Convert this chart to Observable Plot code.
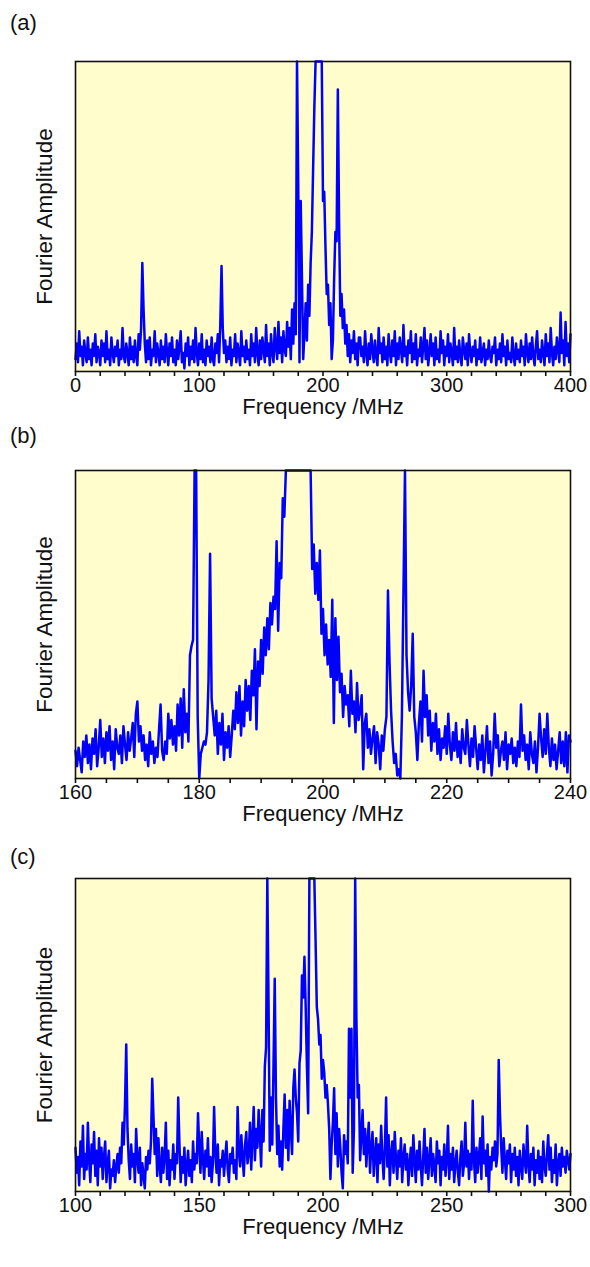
<!DOCTYPE html>
<html>
<head>
<meta charset="utf-8">
<script src="https://cdn.jsdelivr.net/npm/d3@7"></script>
<script src="https://cdn.jsdelivr.net/npm/@observablehq/plot@0.6"></script>
<style>
  html, body { margin: 0; padding: 0; background: white; }
  #root { position: relative; width: 590px; height: 1267px; font-family: "Liberation Sans", Arial, sans-serif; }
  .panel { position: absolute; left: 0; }
  .tag { position: absolute; left: 10px; font-size: 22px; color: #111; line-height: 1; }
</style>
</head>
<body>
<div id="root"></div>
<script>
// ---------- Panel (a): 0–400 MHz, 1 MHz sampling ----------
const aStart = 0, aEnd = 400, aStep = 1;
const aTickLabels = [0, 100, 200, 300, 400];
const aMinorStep = 20;
const aAmp = [
  4, 9, 3, 13, 5, 8, 2, 10, 6, 3,
  11, 4, 7, 2, 9, 5, 12, 3, 8, 6,
  2, 10, 5, 9, 3, 13, 4, 7, 2, 11,
  6, 3, 8, 5, 10, 2, 7, 4, 14, 5,
  3, 9, 6, 2, 11, 4, 8, 3, 10, 5,
  2, 12, 7, 14, 35, 20, 9, 3, 10, 4,
  11, 2, 7, 5, 13, 3, 9, 6, 2, 10,
  4, 8, 3, 12, 6, 2, 9, 5, 11, 3,
  7, 2, 10, 4, 8, 13, 3, 6, 1, 9,
  5, 11, 2, 8, 4, 10, 3, 14, 6, 2,
  9, 4, 12, 3, 7, 2, 10, 5, 8, 3,
  11, 4, 2, 9, 6, 12, 3, 15, 34, 14,
  6, 10, 3, 8, 4, 11, 2, 7, 5, 12,
  3, 9, 6, 2, 13, 5, 8, 3, 10, 4,
  7, 2, 12, 5, 9, 3, 14, 6, 2, 10,
  4, 11, 7, 3, 15, 5, 9, 2, 12, 6,
  3, 14, 8, 4, 16, 6, 11, 3, 13, 7,
  5, 16, 8, 14, 4, 20, 9, 22, 12, 100,
  60, 3, 55, 30, 4, 12, 22, 10, 28, 18,
  35, 45, 65, 85, 100, 100, 100, 100, 100, 100,
  55, 58, 40, 25, 28, 15, 22, 4, 10, 30,
  45, 42, 91, 48, 18, 25, 14, 20, 9, 15,
  5, 12, 3, 10, 6, 13, 4, 9, 2, 11,
  11, 5, 8, 3, 13, 6, 2, 9, 4, 12,
  7, 3, 10, 5, 2, 14, 6, 9, 3, 11,
  4, 8, 2, 12, 6, 3, 10, 5, 13, 2,
  9, 4, 11, 7, 3, 15, 5, 8, 2, 10,
  6, 13, 3, 9, 4, 12, 2, 7, 5, 11,
  3, 8, 14, 4, 10, 2, 6, 12, 5, 9,
  2, 11, 4, 7, 3, 13, 6, 10, 2, 8,
  5, 12, 3, 9, 6, 2, 14, 4, 8, 3,
  10, 5, 2, 11, 7, 4, 9, 2, 12, 6,
  3, 8, 5, 10, 2, 7, 4, 11, 3, 6,
  9, 2, 7, 4, 10, 5, 3, 8, 6, 11,
  2, 7, 4, 9, 3, 12, 5, 8, 2, 10,
  4, 6, 3, 11, 5, 2, 9, 4, 7, 3,
  10, 5, 8, 2, 12, 6, 3, 9, 4, 11,
  5, 2, 8, 13, 4, 7, 3, 10, 6, 2,
  12, 5, 9, 3, 14, 6, 2, 8, 4, 11,
  7, 3, 19, 6, 10, 2, 16, 5, 9, 3,
  12
];

// ---------- Panel (b): 160–240 MHz, 0.25 MHz sampling ----------
const bStart = 160, bEnd = 240, bStep = 0.25;
const bTickLabels = [160, 180, 200, 220, 240];
const bMinorStep = 5;
const bAmp = [
  9, 4, 10, 6,     2, 12, 7, 14,    5, 11, 3, 13,    8, 16, 4, 10,
  19, 7, 13, 5,    15, 9, 17, 6,    12, 3, 16, 10,   8, 14, 5, 17,
  11, 6, 15, 9,    13, 18, 7, 21,   25, 12, 17, 9,   14, 6, 11, 4,
  15, 8, 12, 5,    10, 7, 16, 24,   9, 6, 12, 8,     21, 13, 19, 11,
  17, 9, 24, 14,   26, 10, 29, 15,  21, 12, 40, 43,  45, 100, 100, 20,
  0, 8, 10, 12,    11, 15, 32, 73,  26, 20, 14, 22,  8, 18, 11, 21,
  6, 15, 10, 17,   7, 14, 22, 16,   28, 18, 30, 14,  25, 17, 32, 22,
  30, 19, 35, 27,  42, 16, 38, 30,  45, 34, 49, 40,  52, 42, 57, 50,
  59, 55, 77, 48,  70, 65, 91, 85,  100, 100, 100, 100, 100, 100, 100, 100,
  100, 100, 100, 100, 100, 100, 100, 100, 100, 68, 76, 60, 70, 58, 74, 47,
  55, 40, 50, 37,  45, 33, 58, 18,  52, 32, 46, 28,  34, 20, 30, 24,
  27, 17, 35, 21,  25, 15, 31, 19,  22, 27, 3, 18,   21, 10, 16, 8,
  13, 17, 5, 15,  11, 3, 14, 9,    16, 20, 61, 38,  22, 12, 5, 8,
  1, 3, 0, 20,     60, 100, 40, 28, 22, 30, 47, 20,  15, 6, 18, 25,
  12, 35, 20, 27,  14, 22, 9, 18,   12, 21, 8, 16,   6, 13, 10, 17,
  8, 21, 11, 6,    15, 9, 18, 7,    12, 5, 16, 10,   8, 19, 11, 4,
  13, 7, 17, 10,   3, 11, 6, 14,    2, 9, 17, 5,     12, 1, 8, 21,
  10, 14, 4, 9,    12, 6, 15, 3,    11, 8, 13, 5,    10, 4, 12, 7,
  24, 9, 14, 6,    11, 3, 15, 8,    5, 12, 2, 10,    21, 13, 7, 16,
  8, 21, 10, 4,    13, 6, 11, 3,    9, 15, 5, 12,    4, 15, 2, 14,
  12
];

// ---------- Panel (c): 100–300 MHz, 0.5 MHz sampling ----------
const cStart = 100, cEnd = 300, cStep = 0.5;
const cTickLabels = [100, 150, 200, 250, 300];
const cMinorStep = 10;
const cAmp = [
  14, 6, 11, 2, 16, 8, 21, 4, 12, 7,
  22, 10, 3, 15, 9, 19, 5, 13, 2, 17,
  8, 14, 4, 11, 16, 3, 9, 13, 1, 7,
  5, 10, 3, 8, 12, 6, 14, 9, 22, 15,
  28, 47, 20, 10, 4, 15, 8, 12, 3, 20,
  10, 6, 14, 2, 9, 5, 1, 11, 7, 13,
  9, 16, 36, 24, 12, 20, 5, 17, 8, 3,
  14, 6, 11, 22, 4, 13, 2, 10, 7, 15,
  4, 12, 9, 30, 15, 3, 11, 6, 14, 2,
  8, 13, 5, 10, 3, 16, 7, 12, 9, 25,
  14, 6, 19, 10, 4, 13, 8, 17, 5, 11,
  3, 9, 27, 12, 6, 15, 2, 10, 8, 13,
  5, 11, 16, 7, 3, 12, 9, 14, 6, 10,
  4, 27, 13, 8, 18, 11, 5, 15, 19, 9,
  12, 22, 7, 17, 27, 10, 20, 14, 26, 18,
  8, 26, 16, 40, 46, 100, 60, 13, 30, 15,
  40, 68, 30, 12, 21, 8, 16, 7, 20, 31,
  14, 26, 10, 29, 20, 12, 33, 39, 30, 25,
  16, 41, 45, 69, 62, 75, 59, 40, 25, 100,
  100, 100, 100, 100, 80, 59, 55, 47, 50, 36,
  42, 38, 30, 34, 28, 20, 4, 15, 22, 33,
  12, 25, 8, 20, 14, 6, 1, 18, 12, 16,
  9, 52, 30, 52, 6, 20, 100, 55, 30, 34,
  10, 18, 26, 12, 20, 8, 16, 22, 6, 14,
  19, 5, 12, 17, 3, 15, 9, 21, 11, 4,
  14, 30, 8, 18, 2, 12, 16, 6, 19, 10,
  4, 13, 8, 17, 3, 11, 15, 7, 12, 2,
  9, 14, 5, 18, 10, 3, 13, 7, 16, 8,
  2, 11, 20, 6, 14, 4, 10, 17, 5, 12,
  8, 3, 16, 9, 13, 2, 11, 7, 15, 5,
  10, 21, 4, 12, 7, 14, 3, 9, 13, 6,
  2, 11, 16, 5, 9, 22, 8, 13, 4, 12,
  7, 29, 10, 3, 14, 6, 11, 17, 4, 24,
  9, 13, 5, 15, 0, 11, 7, 14, 10, 16,
  8, 12, 42, 25, 14, 6, 17, 10, 4, 13,
  9, 15, 3, 12, 7, 14, 5, 11, 2, 13,
  8, 4, 15, 10, 6, 21, 9, 3, 12, 7,
  14, 2, 10, 6, 13, 4, 11, 3, 16, 8,
  5, 12, 18, 7, 14, 3, 10, 6, 15, 2,
  9, 12, 5, 14, 8, 11, 6, 13, 10, 7,
  12
];

const panelTags = ["(a)", "(b)", "(c)"];
const xTitle = "Frequency /MHz";
const yTitle = "Fourier Amplitude";
const bgColor = "#FFFDCC";
const lineColor = "#0000FF";

const panels = [
  {tag: panelTags[0], start: aStart, end: aEnd, step: aStep, amp: aAmp, labels: aTickLabels, minor: aMinorStep, top: 0,   inner: 310, tagTop: 12},
  {tag: panelTags[1], start: bStart, end: bEnd, step: bStep, amp: bAmp, labels: bTickLabels, minor: bMinorStep, top: 409, inner: 308, tagTop: 425},
  {tag: panelTags[2], start: cStart, end: cEnd, step: cStep, amp: cAmp, labels: cTickLabels, minor: cMinorStep, top: 817, inner: 313, tagTop: 846}
];

const root = document.getElementById("root");
const mt = 61, mb = 62;

for (const p of panels) {
  const data = p.amp.map((v, i) => ({f: p.start + i * p.step, v}));
  const minorTicks = d3.range(p.start, p.end + p.minor / 2, p.minor);
  const chart = Plot.plot({
    width: 590,
    height: mt + p.inner + mb,
    marginLeft: 75,
    marginRight: 20,
    marginTop: mt,
    marginBottom: mb,
    style: {background: "transparent", fontFamily: "'Liberation Sans', Arial, sans-serif", fontSize: "20px", color: "#111", overflow: "visible"},
    x: {domain: [p.start, p.end]},
    y: {domain: [0, 100], axis: null},
    marks: [
      Plot.frame({fill: bgColor}),
      Plot.line(data, {x: "f", y: "v", stroke: lineColor, strokeWidth: 2.5}),
      Plot.frame({stroke: "#111", strokeWidth: 1.6}),
      Plot.axisX({ticks: minorTicks, tickSize: 5, tickPadding: 1, strokeWidth: 1.6,
                  tickFormat: d => p.labels.includes(d) ? String(d) : "", label: null}),
      Plot.text([xTitle], {frameAnchor: "bottom", dy: 42, fontSize: 22, fill: "#111"}),
      Plot.text([yTitle], {frameAnchor: "left", dx: -31, rotate: -90, textAnchor: "middle", fontSize: 22.5, fill: "#111"})
    ]
  });
  const wrap = document.createElement("div");
  wrap.className = "panel";
  wrap.style.top = p.top + "px";
  wrap.appendChild(chart);
  root.appendChild(wrap);
  const tag = document.createElement("div");
  tag.className = "tag";
  tag.style.top = p.tagTop + "px";
  tag.textContent = p.tag;
  root.appendChild(tag);
}
</script>
</body>
</html>
